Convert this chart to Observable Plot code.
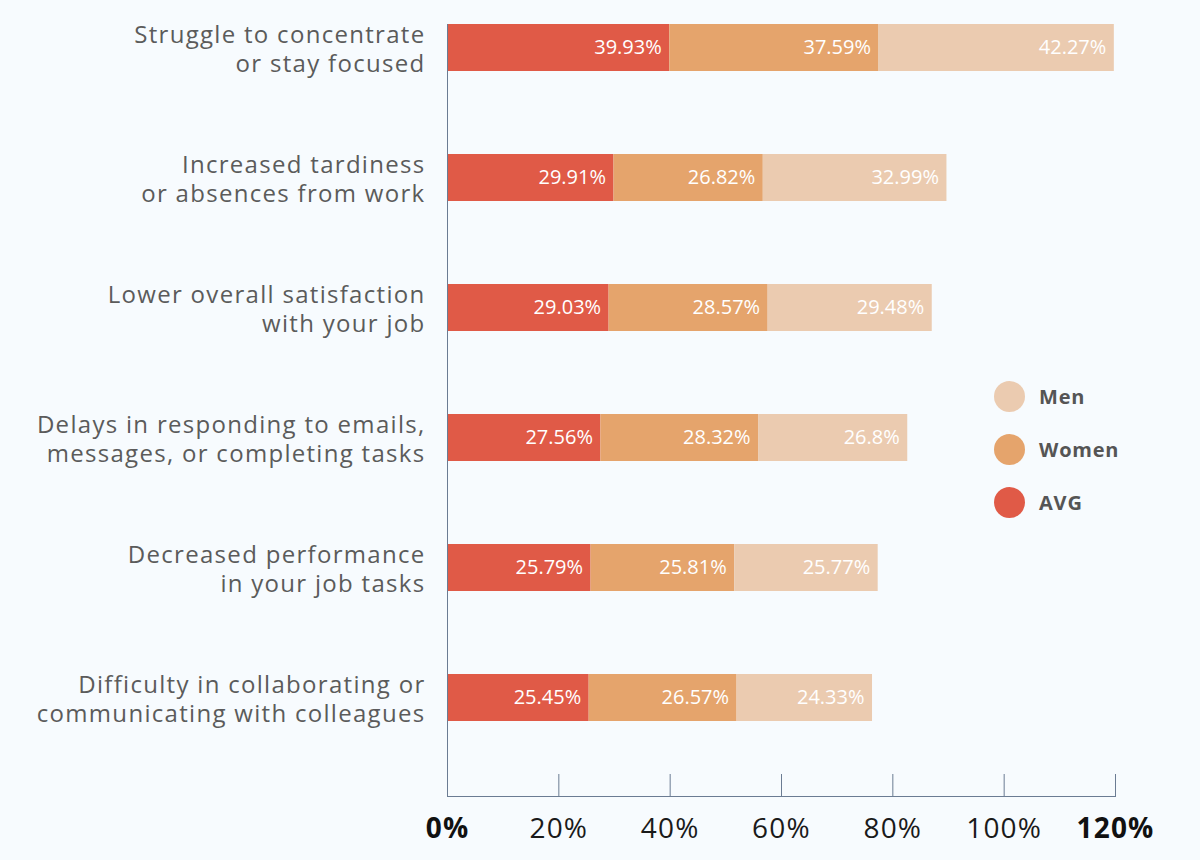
<!DOCTYPE html>
<html><head><meta charset="utf-8">
<script src="https://cdn.jsdelivr.net/npm/d3@7"></script>
<script src="https://cdn.jsdelivr.net/npm/@observablehq/plot@0.6"></script>
<style>
html,body{margin:0;padding:0;background:#f7fbfe;}
#wrap{position:relative;width:1200px;height:860px;}
#legend{position:absolute;left:994px;top:381px;font-family:"Open Sans",sans-serif;font-weight:700;font-size:20px;letter-spacing:0.8px;color:#555;}
.item{display:flex;align-items:center;height:31px;margin-bottom:22px;}
.sw{width:31px;height:31px;border-radius:50%;margin-right:14px;}
</style></head>
<body><div id="wrap"><div id="chart"></div><div id="legend"></div></div>
<script>
const categories = [
  "Struggle to concentrate\nor stay focused",
  "Increased tardiness\nor absences from work",
  "Lower overall satisfaction\nwith your job",
  "Delays in responding to emails,\nmessages, or completing tasks",
  "Decreased performance\nin your job tasks",
  "Difficulty in collaborating or\ncommunicating with colleagues"
];
const avg   = [39.93, 29.91, 29.03, 27.56, 25.79, 25.45];
const women = [37.59, 26.82, 28.57, 28.32, 25.81, 26.57];
const men   = [42.27, 32.99, 29.48, 26.8, 25.77, 24.33];
const seriesNames  = ["AVG", "Women", "Men"];
const seriesColors = ["#e05a47", "#e5a46c", "#ebcbb0"];
const regularTicks = [20, 40, 60, 80, 100];
const boldTicks    = [0, 120];
const gridTicks    = [20, 40, 60, 80, 100, 120];
const legendOrder  = ["Men", "Women", "AVG"];

const seriesValues = [avg, women, men];
const table = [];
categories.forEach((c, i) => {
  seriesNames.forEach((s, j) => table.push({cat: c, series: s, value: seriesValues[j][i]}));
});

const FONT = "'Open Sans', sans-serif";
const axisColor = "#6b7c93";

const chart = Plot.plot({
  width: 1200, height: 860,
  marginLeft: 447, marginRight: 85, marginTop: 24, marginBottom: 64,
  style: {background: "transparent", fontFamily: FONT},
  x: {domain: [0, 120], axis: null},
  y: {domain: categories, range: [24, 721], paddingInner: 83/130, paddingOuter: 0, round: false, axis: null},
  color: {domain: seriesNames, range: seriesColors},
  marks: [
    Plot.barX(table, Plot.stackX({x: "value", y: "cat", fill: "series", order: null})),
    Plot.text(table, Plot.stackX2({x: "value", y: "cat", z: "series", order: null,
      text: d => d.value + "%", textAnchor: "end", dx: -8, fill: "white", fontSize: 20})),
    Plot.gridX(gridTicks, {stroke: axisColor, strokeOpacity: 1, insetTop: 750}),
    Plot.ruleX([0], {stroke: axisColor}),
    Plot.frame({anchor: "bottom", stroke: axisColor}),
    Plot.axisY({tickSize: 0, tickPadding: 22, fontSize: 24, fill: "#5b5b5b", lineHeight: 1.21, label: null}),
    Plot.axisX({ticks: regularTicks, tickSize: 0, tickPadding: 22, fontSize: 28, fill: "#1a1a1a", tickFormat: d => d + "%", label: null}),
    Plot.axisX({ticks: boldTicks, tickSize: 0, tickPadding: 22, fontSize: 28, fontWeight: "bold", fill: "#111", tickFormat: d => d + "%", label: null})
  ]
});
d3.select(chart).selectAll('g[aria-label="y-axis tick label"] text').style("letter-spacing", "1.3px");
d3.select(chart).selectAll('g[aria-label="x-axis tick label"] text').style("letter-spacing", "1.2px");
document.getElementById("chart").appendChild(chart);

const legend = document.getElementById("legend");
legendOrder.forEach(s => {
  const it = document.createElement("div");
  it.className = "item";
  const sw = document.createElement("div");
  sw.className = "sw";
  sw.style.background = seriesColors[seriesNames.indexOf(s)];
  const t = document.createElement("span");
  t.textContent = s;
  it.appendChild(sw); it.appendChild(t);
  legend.appendChild(it);
});
</script>
</body></html>
